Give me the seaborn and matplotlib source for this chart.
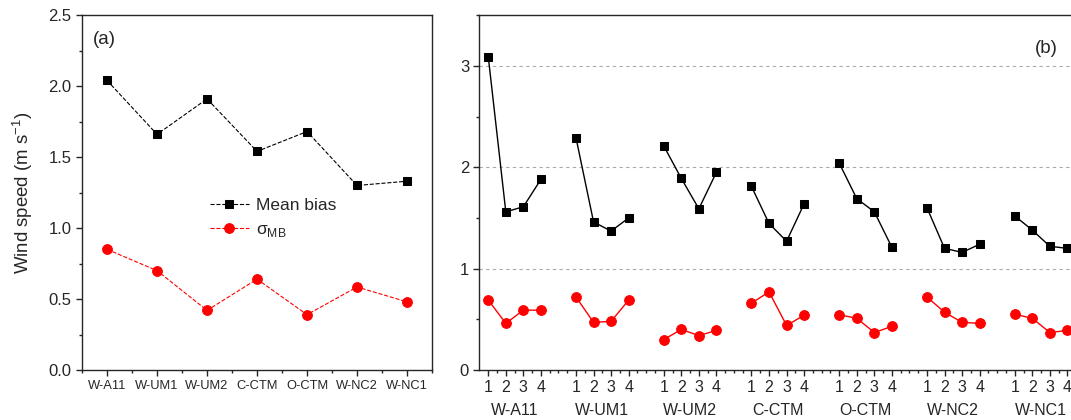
import numpy as np
import pandas as pd
import matplotlib
matplotlib.use("Agg")
import matplotlib.pyplot as plt
import seaborn as sns
from matplotlib.ticker import MultipleLocator, FixedLocator
from matplotlib.transforms import blended_transform_factory

# data
models = ["W-A11", "W-UM1", "W-UM2", "C-CTM", "O-CTM", "W-NC2", "W-NC1"]
mean_bias = [2.04, 1.66, 1.91, 1.54, 1.68, 1.30, 1.33]
sigma_mb = [0.85, 0.70, 0.42, 0.64, 0.39, 0.585, 0.48]

cases = [1, 2, 3, 4]
mb_cases = [
    [3.09, 1.56, 1.61, 1.88],
    [2.29, 1.46, 1.37, 1.50],
    [2.21, 1.89, 1.59, 1.95],
    [1.81, 1.445, 1.27, 1.64],
    [2.04, 1.69, 1.56, 1.21],
    [1.60, 1.20, 1.16, 1.24],
    [1.52, 1.38, 1.22, 1.20],
]
sd_cases = [
    [0.69, 0.46, 0.59, 0.59],
    [0.72, 0.47, 0.48, 0.69],
    [0.30, 0.40, 0.34, 0.39],
    [0.66, 0.77, 0.44, 0.54],
    [0.545, 0.51, 0.37, 0.43],
    [0.72, 0.57, 0.47, 0.46],
    [0.55, 0.51, 0.37, 0.39],
]

sns.set_style("ticks")
plt.rcParams['font.family'] = ['Liberation Sans', 'DejaVu Sans']
plt.rcParams['axes.linewidth'] = 1.0

fig = plt.figure(figsize=(10.71, 4.2), dpi=100)
ax1 = fig.add_axes([0.0766, 0.119, 0.3268, 0.845])
ax2 = fig.add_axes([0.4477, 0.119, 0.5653, 0.845])

# --- (a) ---
df_a = pd.DataFrame({"pos": np.arange(1, len(models) + 1),
                     "mb": mean_bias, "sd": sigma_mb})
sns.lineplot(data=df_a, x="pos", y="mb", ax=ax1, color="black", marker="s",
             markersize=6, markeredgecolor="black", linestyle="--", lw=0.8,
             label="Mean bias")
sns.lineplot(data=df_a, x="pos", y="sd", ax=ax1, color="red", marker="o",
             markersize=7, markeredgecolor="red", linestyle="--", lw=0.8,
             label="σ$_\\mathregular{MB}$")
ax1.set_xlim(0.5, 7.5)
ax1.set_ylim(0, 2.5)
ax1.set_xticks(df_a["pos"])
ax1.set_xticklabels(models, fontsize=9.3)
ax1.xaxis.set_minor_locator(MultipleLocator(0.5))
ax1.yaxis.set_major_locator(MultipleLocator(0.5))
ax1.yaxis.set_minor_locator(MultipleLocator(0.25))
ax1.yaxis.set_major_formatter(matplotlib.ticker.FormatStrFormatter("%.1f"))
ax1.tick_params(axis="y", labelsize=12)
ax1.tick_params(which="major", length=4, width=1, direction="out")
ax1.tick_params(which="minor", length=2.5, width=1, direction="out")
ax1.set_xlabel("")
ax1.set_ylabel("Wind speed (m s$^\\mathregular{-1}$)", fontsize=13.4, labelpad=10)
ax1.text(0.03, 0.955, "(a)", transform=ax1.transAxes, fontsize=13.5, va="top")
ax1.legend(loc="upper left", bbox_to_anchor=(0.345, 0.504), frameon=False,
           fontsize=12.5, handlelength=2.25, labelspacing=0.5, handletextpad=0.4,
           borderaxespad=0)

# --- (b) ---
rows = []
for g, name in enumerate(models):
    for k, c in enumerate(cases):
        rows.append({"model": name, "pos": 5 * g + c,
                     "mb": mb_cases[g][k], "sd": sd_cases[g][k]})
df_b = pd.DataFrame(rows)
sns.lineplot(data=df_b, x="pos", y="mb", units="model", estimator=None, ax=ax2,
             color="black", marker="s", markersize=6, markeredgecolor="black", lw=1)
sns.lineplot(data=df_b, x="pos", y="sd", units="model", estimator=None, ax=ax2,
             color="red", marker="o", markersize=7, markeredgecolor="red", lw=1)
ax2.set_xlim(0.5, 35)
ax2.set_ylim(0, 3.5)
ax2.set_xticks(df_b["pos"])
ax2.set_xticklabels([str(c) for c in df_b["pos"] % 5], fontsize=11.5)
ax2.xaxis.set_minor_locator(FixedLocator(np.arange(1, 35.5, 0.5)))
ax2.set_yticks([0, 1, 2, 3])
ax2.yaxis.set_minor_locator(MultipleLocator(0.5))
ax2.tick_params(axis="y", labelsize=12)
ax2.tick_params(which="major", length=4, width=1, direction="out")
ax2.tick_params(which="minor", length=2.5, width=1, direction="out")
for yv in [1, 2, 3]:
    ax2.axhline(yv, color="#aaaaaa", ls=(0, (3, 3)), lw=0.8, zorder=0)
ax2.set_xlabel("")
ax2.set_ylabel("")
trans = blended_transform_factory(ax2.transData, ax2.transAxes)
for g, name in enumerate(models):
    ax2.text(5 * g + 2.5, -0.113, name, transform=trans, ha="center", va="center",
             fontsize=11.5)
ax2.text(0.955, 0.93, "(b)", transform=ax2.transAxes, fontsize=13.5, ha="right", va="top")

fig.savefig("out.png", dpi=100)
